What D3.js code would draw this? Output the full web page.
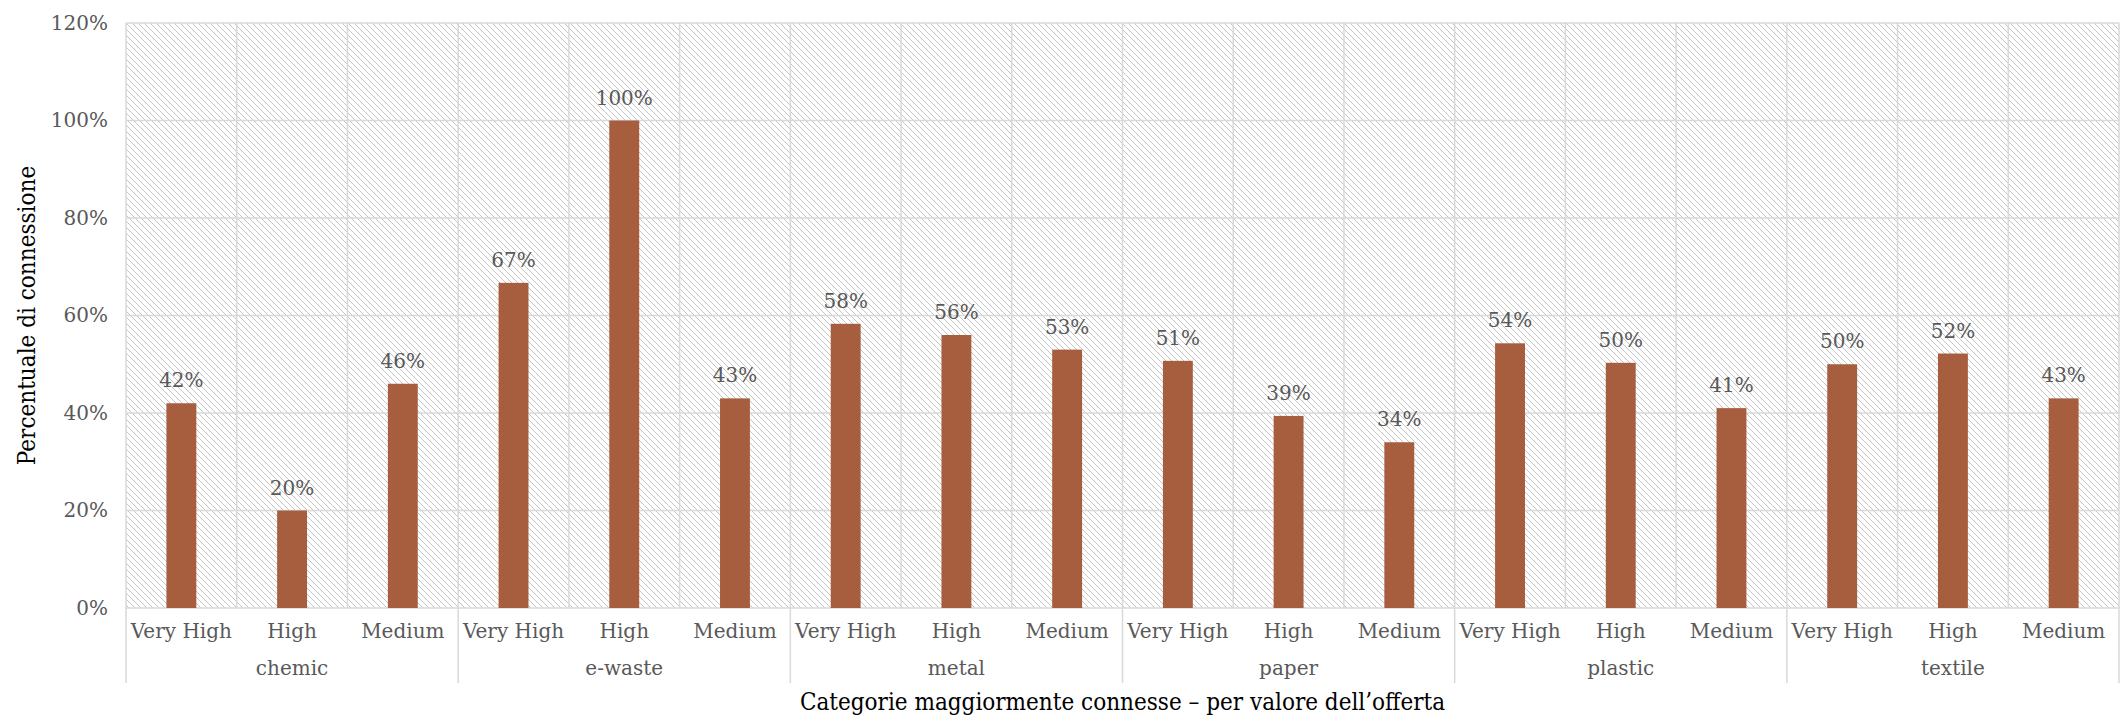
<!DOCTYPE html>
<html>
<head>
<meta charset="utf-8">
<script src="https://cdn.jsdelivr.net/npm/d3@7"></script>
<style>
  body { margin: 0; background: #fff; }
  text { font-family: "DejaVu Serif", serif; }
</style>
</head>
<body>
<div id="chart"></div>
<script>
// DATA
const groups = ['chemic', 'e-waste', 'metal', 'paper', 'plastic', 'textile'];
const levels = ['Very High', 'High', 'Medium'];
const chemic = [0.42, 0.20, 0.46];
const ewaste = [0.667, 1.00, 0.43];
const metal = [0.583, 0.56, 0.53];
const paper = [0.507, 0.394, 0.34];
const plastic = [0.543, 0.503, 0.41];
const textile = [0.50, 0.522, 0.43];
const yTicks = [0, 0.2, 0.4, 0.6, 0.8, 1.0, 1.2];

const seriesByGroup = [chemic, ewaste, metal, paper, plastic, textile];
const data = [];
groups.forEach((g, i) => {
    levels.forEach((l, j) => data.push({ group: g, level: l, value: seriesByGroup[i][j] }));
});

// DIMENSIONS
const width = 2120, height = 715;
const margin = { top: 23, right: 1, bottom: 107, left: 126 };
const innerW = width - margin.left - margin.right;
const innerH = height - margin.top - margin.bottom;
const grid = '#d9d9d9';
const labelGrey = '#595959';

const svg = d3.select('#chart').append('svg')
    .attr('width', width)
    .attr('height', height);

// HATCH PATTERN (pixel diagonal, top-left to bottom-right)
const tile = 6;
const defs = svg.append('defs');
const pat = defs.append('pattern')
    .attr('id', 'hatch')
    .attr('patternUnits', 'userSpaceOnUse')
    .attr('width', tile)
    .attr('height', tile);
pat.selectAll('rect')
    .data(d3.range(tile))
    .join('rect')
    .attr('x', d => d).attr('y', d => d)
    .attr('width', 1).attr('height', 1)
    .attr('shape-rendering', 'crispEdges')
    .attr('fill', '#c4c4c4');

const g = svg.append('g').attr('transform', `translate(${margin.left},${margin.top})`);

// SCALES
const x0 = d3.scaleBand().domain(groups).range([0, innerW]).padding(0);
const x1 = d3.scaleBand().domain(levels).range([0, x0.bandwidth()]).padding(0);
const y = d3.scaleLinear().domain([0, 1.2]).range([innerH, 0]);
const barW = x1.bandwidth() * 0.27;

// BACKGROUND
g.append('rect')
    .attr('width', innerW)
    .attr('height', innerH)
    .attr('fill', 'url(#hatch)');

// HORIZONTAL GRID
g.selectAll('.hgrid')
    .data(yTicks)
    .join('line')
    .attr('x1', 0).attr('x2', innerW)
    .attr('y1', d => y(d)).attr('y2', d => y(d))
    .attr('stroke', grid)
    .attr('stroke-width', 1.5);

// VERTICAL GRID (one per category slot)
const slotEdges = [];
groups.forEach(gr => levels.forEach(l => slotEdges.push(x0(gr) + x1(l))));
slotEdges.push(innerW);
g.selectAll('.vgrid')
    .data(slotEdges)
    .join('line')
    .attr('x1', d => d).attr('x2', d => d)
    .attr('y1', 0).attr('y2', innerH)
    .attr('stroke', grid)
    .attr('stroke-width', 1.5);

// Y AXIS LABELS
const yAxis = g.append('g')
    .call(d3.axisLeft(y).tickValues(yTicks).tickFormat(d3.format('.0%')).tickSize(0).tickPadding(18));
yAxis.select('.domain').remove();
yAxis.selectAll('text')
    .attr('fill', labelGrey)
    .style('font-size', '20px')
    .style('font-family', '"DejaVu Serif", serif');

// BARS
g.selectAll('.bar')
    .data(data)
    .join('rect')
    .attr('x', d => x0(d.group) + x1(d.level) + (x1.bandwidth() - barW) / 2)
    .attr('y', d => y(d.value))
    .attr('width', barW)
    .attr('height', d => innerH - y(d.value))
    .attr('fill', '#a65e3f');

// DATA LABELS
g.selectAll('.lbl')
    .data(data)
    .join('text')
    .attr('x', d => x0(d.group) + x1(d.level) + x1.bandwidth() / 2)
    .attr('y', d => y(d.value) - 16)
    .attr('text-anchor', 'middle')
    .attr('fill', labelGrey)
    .style('font-size', '20px')
    .text(d => d3.format('.0%')(d.value));

// X AXIS: LEVEL LABELS
g.selectAll('.lvl')
    .data(data)
    .join('text')
    .attr('x', d => x0(d.group) + x1(d.level) + x1.bandwidth() / 2)
    .attr('y', innerH + 30)
    .attr('text-anchor', 'middle')
    .attr('fill', labelGrey)
    .style('font-size', '20px')
    .text(d => d.level);

// X AXIS: GROUP LABELS
g.selectAll('.grp')
    .data(groups)
    .join('text')
    .attr('x', d => x0(d) + x0.bandwidth() / 2)
    .attr('y', innerH + 67)
    .attr('text-anchor', 'middle')
    .attr('fill', labelGrey)
    .style('font-size', '20px')
    .text(d => d);

// GROUP SEPARATORS
g.selectAll('.sep')
    .data(groups.map(d => x0(d)).concat([innerW]))
    .join('line')
    .attr('x1', d => d).attr('x2', d => d)
    .attr('y1', innerH).attr('y2', innerH + 75)
    .attr('stroke', grid)
    .attr('stroke-width', 1.5);

// X TITLE
svg.append('text')
    .attr('x', margin.left + innerW / 2)
    .attr('y', height - 5)
    .attr('text-anchor', 'middle')
    .attr('fill', '#000')
    .style('font-family', '"DejaVu Serif Condensed", "DejaVu Serif", serif')
    .style('font-size', '24px')
    .text('Categorie maggiormente connesse – per valore dell’offerta');

// Y TITLE
svg.append('text')
    .attr('transform', `translate(35,${margin.top + innerH / 2})rotate(-90)`)
    .attr('text-anchor', 'middle')
    .attr('fill', '#000')
    .style('font-family', '"DejaVu Serif Condensed", "DejaVu Serif", serif')
    .style('font-size', '24px')
    .text('Percentuale di connessione');
</script>
</body>
</html>
